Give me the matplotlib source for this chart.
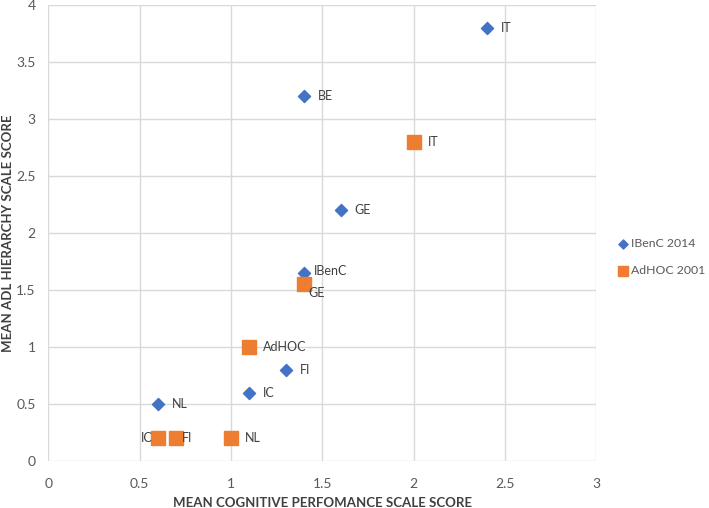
import matplotlib.pyplot as plt

plt.rcParams['font.family'] = ['Lato', 'DejaVu Sans']

# IBenC 2014
ibenc_labels = ['IT', 'BE', 'GE', 'IBenC', 'FI', 'IC', 'NL']
ibenc_x = [2.4, 1.4, 1.6, 1.4, 1.3, 1.1, 0.6]
ibenc_y = [3.8, 3.2, 2.2, 1.65, 0.8, 0.6, 0.5]

# AdHOC 2001
adhoc_labels = ['IT', 'GE', 'AdHOC', 'IC', 'FI', 'NL']
adhoc_x = [2.0, 1.4, 1.1, 0.6, 0.7, 1.0]
adhoc_y = [2.8, 1.55, 1.0, 0.2, 0.2, 0.2]

x_ticks = [0, 0.5, 1, 1.5, 2, 2.5, 3]
y_ticks = [0, 0.5, 1, 1.5, 2, 2.5, 3, 3.5, 4]

blue = '#4472C4'
orange = '#ED7D31'
grid_c = '#D9D9D9'
txt = '#404040'

fig = plt.figure(figsize=(7.09, 5.08), dpi=100)
ax = fig.add_axes([0.068, 0.0925, 0.773, 0.898])

ax.scatter(ibenc_x, ibenc_y, marker='D', s=38, color=blue, zorder=3, label='IBenC 2014')
ax.scatter(adhoc_x, adhoc_y, marker='s', s=95, color=orange, zorder=3, label='AdHOC 2001')

# point labels (offset in points)
ib_off = {'IBenC': (7, 1), 'IT': (10, 0), 'BE': (10, 0), 'GE': (10, 0),
          'FI': (10, 0), 'IC': (10, 0), 'NL': (10, 0)}
for lab, x, y in zip(ibenc_labels, ibenc_x, ibenc_y):
    dx, dy = ib_off[lab]
    ax.annotate(lab, (x, y), xytext=(dx, dy), textcoords='offset points',
                va='center', ha='left', fontsize=9, color=txt)

ad_off = {'IT': (10, 0, 'left'), 'GE': (3, -6, 'left'), 'AdHOC': (10, 0, 'left'),
          'IC': (-4, 0, 'right'), 'FI': (4, 0, 'left'), 'NL': (10, 0, 'left')}
for lab, x, y in zip(adhoc_labels, adhoc_x, adhoc_y):
    dx, dy, ha = ad_off[lab]
    ax.annotate(lab, (x, y), xytext=(dx, dy), textcoords='offset points',
                va='center', ha=ha, fontsize=9, color=txt)

ax.set_xlim(0, 3)
ax.set_ylim(0, 4)
ax.set_xticks(x_ticks)
ax.set_xticklabels([f'{v:g}' for v in x_ticks])
ax.set_yticks(y_ticks)
ax.set_yticklabels([f'{v:g}' for v in y_ticks])
ax.grid(True, color=grid_c, linewidth=1)
ax.set_axisbelow(True)
for s in ax.spines.values():
    s.set_visible(False)
ax.tick_params(length=0, labelsize=10, labelcolor='#595959')
ax.tick_params(axis='x', pad=12)
ax.tick_params(axis='y', pad=9)

ax.set_xlabel('MEAN COGNITIVE PERFOMANCE SCALE SCORE', fontsize=9.5,
              fontweight='bold', color=txt, labelpad=5)
ax.set_ylabel('MEAN ADL HIERARCHY SCALE SCORE', fontsize=9.5,
              fontweight='bold', color=txt)
ax.yaxis.set_label_coords(-0.063, 0.5)

ax.legend(loc='center left', bbox_to_anchor=(1.035, 0.447), frameon=False,
          fontsize=8.8, labelcolor='#595959', handletextpad=0.1,
          handlelength=1.2, labelspacing=1.3, markerscale=0.75,
          borderaxespad=0, borderpad=0)

fig.savefig('out.png', dpi=100)
